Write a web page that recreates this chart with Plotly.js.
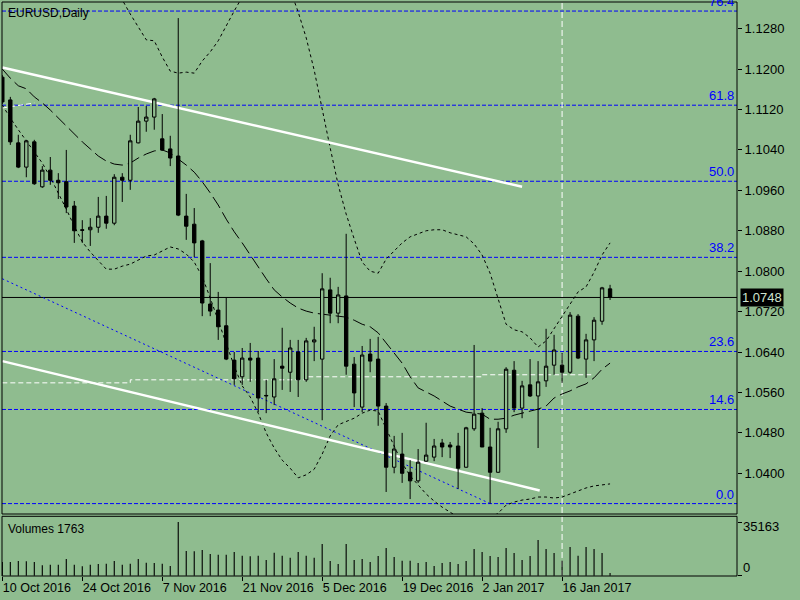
<!DOCTYPE html>
<html><head><meta charset="utf-8">
<script src="https://cdn.plot.ly/plotly-3.0.1.min.js"></script>
<style>html,body{margin:0;padding:0;background:#8FBC8F;}#chart{width:800px;height:600px;}</style>
</head><body><div id="chart"></div>
<script>
// ---- data (EURUSD, Daily) ----
const dateTickIdx  = [0,10,20,30,40,50,60,70];
const dateTickText = ['10 Oct 2016','24 Oct 2016','7 Nov 2016','21 Nov 2016','5 Dec 2016','19 Dec 2016','2 Jan 2017','16 Jan 2017'];

const openP = [1.1184,1.1139,1.1054,1.1006,1.1056,1.0967,1.1000,1.0980,1.0977,1.0929,
1.0882,1.0882,1.0887,1.0909,1.0895,1.0986,1.0980,1.1054,1.1097,1.1105,
1.1062,1.1042,1.1028,1.0909,1.0893,1.0860,1.0735,1.0723,1.0692,1.0624,
1.0591,1.0628,1.0628,1.0553,1.0551,1.0612,1.0600,1.0640,1.0585,1.0660,
1.0626,1.0763,1.0717,1.0751,1.0616,1.0531,1.0636,1.0626,1.0533,1.0412,
1.0438,1.0402,1.0385,1.0424,1.0432,1.0460,1.0456,1.0454,1.0412,1.0488,
1.0519,1.0452,1.0402,1.0488,1.0604,1.0529,1.0575,1.0553,1.0583,1.0614,
1.0614,1.0600,1.0711,1.0626,1.0664,1.0701,1.0765];
const highP = [1.1188,1.1145,1.1070,1.1060,1.1060,1.1008,1.1026,1.0994,1.1040,1.0939,
1.0901,1.0905,1.0947,1.0949,1.0992,1.0994,1.1070,1.1125,1.1127,1.1143,
1.1111,1.1068,1.1301,1.0953,1.0925,1.0862,1.0816,1.0759,1.0747,1.0640,
1.0648,1.0658,1.0642,1.0585,1.0626,1.0688,1.0664,1.0664,1.0668,1.0690,
1.0796,1.0787,1.0769,1.0874,1.0630,1.0652,1.0666,1.0670,1.0539,1.0474,
1.0480,1.0426,1.0448,1.0500,1.0468,1.0468,1.0462,1.0480,1.0492,1.0654,
1.0529,1.0490,1.0502,1.0610,1.0622,1.0583,1.0626,1.0622,1.0686,1.0674,
1.0638,1.0719,1.0715,1.0676,1.0709,1.0769,1.0773];
const lowP = [1.1131,1.1050,1.1004,1.0986,1.0971,1.0965,1.0971,1.0943,1.0915,1.0856,
1.0856,1.0850,1.0876,1.0884,1.0891,1.0937,1.0961,1.1053,1.1076,1.1080,
1.1038,1.1008,1.0909,1.0862,1.0828,1.0711,1.0711,1.0664,1.0624,1.0575,
1.0575,1.0581,1.0521,1.0519,1.0535,1.0565,1.0561,1.0551,1.0581,1.0622,
1.0505,1.0697,1.0697,1.0595,1.0531,1.0521,1.0600,1.0494,1.0363,1.0400,
1.0381,1.0349,1.0381,1.0423,1.0424,1.0432,1.0430,1.0369,1.0411,1.0484,
1.0452,1.0340,1.0401,1.0480,1.0521,1.0509,1.0551,1.0450,1.0571,1.0595,
1.0579,1.0597,1.0626,1.0589,1.0622,1.0694,1.0743];
const closeP = [1.1135,1.1056,1.1006,1.1058,1.0973,1.1000,1.0980,1.0975,1.0927,1.0880,
1.0881,1.0887,1.0909,1.0895,1.0986,1.0980,1.1058,1.1097,1.1105,1.1141,
1.1040,1.1024,1.0911,1.0889,1.0856,1.0737,1.0721,1.0690,1.0626,1.0587,
1.0628,1.0624,1.0549,1.0554,1.0587,1.0608,1.0648,1.0585,1.0662,1.0664,
1.0765,1.0717,1.0753,1.0612,1.0559,1.0634,1.0622,1.0533,1.0412,1.0448,
1.0400,1.0385,1.0422,1.0436,1.0454,1.0452,1.0452,1.0410,1.0490,1.0517,
1.0452,1.0402,1.0488,1.0606,1.0529,1.0573,1.0553,1.0581,1.0612,1.0644,
1.0600,1.0713,1.0628,1.0664,1.0703,1.0767,1.0748];
const volumes = [9000,8950,9610,9390,8950,6770,7210,7210,10920,7210,
6120,7210,7640,7860,9610,7210,7860,10920,8520,8300,
7860,6330,35163,16160,15940,16820,14200,13760,13760,15510,
13100,12670,13100,10260,15070,13100,11790,15510,13100,11790,
20750,9610,7640,20750,10260,10920,8950,12890,18130,12230,
9830,9830,8300,8950,6330,8300,8950,7640,9610,17470,
15510,12890,12230,18130,14850,10260,12890,23370,17470,14850,
9830,18780,13100,18780,17470,14850,1763];

// Bollinger bands (dotted) and their middle line (long dash)
const bbUpper = [null,null,null,null,null,null,null,null,null,null,
null,null,null,null,1.1347,1.1337,1.1309,1.1283,1.1258,1.1256,
1.1224,1.1196,1.1192,1.1194,1.1192,1.1216,1.1234,1.1256,1.1287,1.1315,
1.1343,1.1366,1.1380,1.1386,1.1392,1.1386,1.1357,1.1313,1.1262,1.1198,
1.1119,1.1044,1.0971,1.0913,1.0864,1.0818,1.0800,1.0796,1.0824,1.0840,
1.0856,1.0868,1.0874,1.0880,1.0882,1.0882,1.0876,1.0872,1.0868,1.0854,
1.0832,1.0796,1.0743,1.0695,1.0684,1.0680,1.0668,1.0650,1.0662,1.0686,
1.0709,1.0735,1.0759,1.0769,1.0798,1.0832,1.0856];
const bbMiddle = [1.1200,1.1182,1.1167,1.1161,1.1145,1.1133,1.1119,1.1103,1.1089,1.1072,
1.1056,1.1042,1.1028,1.1018,1.1012,1.1010,1.1014,1.1024,1.1032,1.1038,
1.1040,1.1034,1.1022,1.1010,1.0996,1.0977,1.0955,1.0931,1.0903,1.0878,
1.0856,1.0832,1.0808,1.0785,1.0763,1.0749,1.0737,1.0727,1.0721,1.0717,
1.0715,1.0713,1.0711,1.0709,1.0703,1.0695,1.0690,1.0678,1.0658,1.0638,
1.0618,1.0591,1.0569,1.0561,1.0553,1.0543,1.0533,1.0527,1.0521,1.0519,
1.0517,1.0507,1.0507,1.0509,1.0515,1.0519,1.0523,1.0527,1.0533,1.0549,
1.0557,1.0563,1.0571,1.0577,1.0589,1.0606,1.0618];
const bbLower = [1.1129,1.1103,1.1080,1.1058,1.1036,1.1014,1.0986,1.0955,1.0923,1.0889,
1.0858,1.0838,1.0820,1.0804,1.0804,1.0810,1.0814,1.0822,1.0830,1.0832,
1.0840,1.0848,1.0844,1.0834,1.0818,1.0789,1.0747,1.0703,1.0658,1.0612,
1.0573,1.0551,1.0519,1.0480,1.0450,1.0426,1.0410,1.0391,1.0397,1.0408,
1.0438,1.0474,1.0496,1.0502,1.0509,1.0519,1.0525,1.0523,1.0490,1.0454,
1.0420,1.0395,1.0377,1.0359,1.0345,1.0333,1.0323,1.0313,1.0308,1.0304,
1.0306,1.0311,1.0321,1.0337,1.0343,1.0347,1.0349,1.0353,1.0353,1.0351,
1.0353,1.0359,1.0365,1.0371,1.0375,1.0377,1.0379];

// white stepped dashed line and short white dashed piece
const whiteStepIdx = [0,16,38,60,74];
const whiteStep    = [1.0579,1.0585,1.0591,1.0595,1.0595];
const whiteShortIdx = [0,4];
const whiteShort    = [1.1123,1.1133];

// trend lines (white, solid)
const upperTrendIdx = [0,65],   upperTrend = [1.1203,1.0967];
const lowerTrendIdx = [0,67.2], lowerTrend = [1.0622,1.0366];

// Fibonacci retracement
const fibLow = 1.0340, fibHigh = 1.1616;
const fibLevels = [0,14.6,23.6,38.2,50.0,61.8,76.4];
const fibLabels = ['0.0','14.6','23.6','38.2','50.0','61.8','76.4'];
const fibDiagIdx = [0,61], fibDiag = [1.0785,1.0340];

const priceTicks = [1.0400,1.0480,1.0560,1.0640,1.0720,1.0800,1.0880,1.0960,1.1040,1.1120,1.1200,1.1280];
const lastPrice = 1.0748;
const volTicks = [0,35163], volTickText = ['0','35163'];
const lastVolume = 1763;
const markerIdx = 70; // vertical line at 16 Jan 2017

// ---- drawing ----
const BG = '#8FBC8F';
const FONT = 'Liberation Sans, Arial, sans-serif';
const idx = openP.map((_, i) => i);
const yRange = [1.03194, 1.13328];
const fibPrice = fibLevels.map(l => fibLow + l / 100 * (fibHigh - fibLow));

const traces = [
  {type:'scatter', mode:'lines', x:idx, y:bbUpper, xaxis:'x', yaxis:'y',
   line:{color:'#000', width:1, dash:'3px,3px'}, hoverinfo:'skip'},
  {type:'scatter', mode:'lines', x:idx, y:bbLower, xaxis:'x', yaxis:'y',
   line:{color:'#000', width:1, dash:'3px,3px'}, hoverinfo:'skip'},
  {type:'scatter', mode:'lines', x:idx, y:bbMiddle, xaxis:'x', yaxis:'y',
   line:{color:'#000', width:1, dash:'13px,5px'}, hoverinfo:'skip'},
  {type:'scatter', mode:'lines', x:whiteStepIdx, y:whiteStep, xaxis:'x', yaxis:'y',
   line:{color:'#fff', width:1, dash:'5px,3px', shape:'hv'}, hoverinfo:'skip'},
  {type:'scatter', mode:'lines', x:whiteShortIdx, y:whiteShort, xaxis:'x', yaxis:'y',
   line:{color:'#fff', width:1, dash:'5px,3px'}, hoverinfo:'skip'},
  {type:'scatter', mode:'lines', x:fibDiagIdx, y:fibDiag, xaxis:'x', yaxis:'y',
   line:{color:'#0000ff', width:1, dash:'2px,3px'}, hoverinfo:'skip'},
  {type:'scatter', mode:'lines', x:upperTrendIdx, y:upperTrend, xaxis:'x', yaxis:'y',
   line:{color:'#fff', width:2.5}, hoverinfo:'skip'},
  {type:'scatter', mode:'lines', x:lowerTrendIdx, y:lowerTrend, xaxis:'x', yaxis:'y',
   line:{color:'#fff', width:2.5}, hoverinfo:'skip'},
  {type:'candlestick', x:idx, open:openP, high:highP, low:lowP, close:closeP,
   xaxis:'x', yaxis:'y3', whiskerwidth:0,
   increasing:{line:{color:'#000', width:1}, fillcolor:BG},
   decreasing:{line:{color:'#000', width:1}, fillcolor:'#000'}, hoverinfo:'skip'},
  {type:'bar', x:idx, y:volumes, xaxis:'x', yaxis:'y2', width:0.14,
   marker:{color:'#000', line:{width:0}}, hoverinfo:'skip'}
];

const shapes = [];
fibPrice.forEach(p => shapes.push({type:'line', xref:'paper', x0:0, x1:1, yref:'y', y0:p, y1:p,
  line:{color:'#0000ff', width:1, dash:'4px,2px'}, layer:'below'}));
shapes.push({type:'line', xref:'paper', x0:0, x1:1, yref:'y', y0:lastPrice, y1:lastPrice,
  line:{color:'#000', width:1}, layer:'below'});
shapes.push({type:'line', xref:'x', x0:markerIdx, x1:markerIdx, yref:'paper', y0:0, y1:1,
  line:{color:'#fff', width:1, dash:'6px,3px'}, layer:'below'});
shapes.push({type:'rect', xref:'paper', yref:'paper', x0:0, x1:1, y0:0.108, y1:1,
  line:{color:'#000', width:1}, fillcolor:'rgba(0,0,0,0)', layer:'above'});
shapes.push({type:'rect', xref:'paper', yref:'paper', x0:0, x1:1, y0:0, y1:0.104,
  line:{color:'#000', width:1}, fillcolor:'rgba(0,0,0,0)', layer:'above'});

const annotations = [];
fibPrice.forEach((p, k) => annotations.push({xref:'paper', x:1, xanchor:'right', xshift:-1,
  yref:'y', y:p, yanchor:'bottom', yshift:0, text:fibLabels[k], showarrow:false,
  font:{family:FONT, size:13, color:'#0000ff'}}));
annotations.push({xref:'paper', x:1, xanchor:'left', xshift:3, yref:'y', y:lastPrice, yanchor:'middle',
  text:lastPrice.toFixed(4), showarrow:false, bgcolor:'#000', borderpad:1,
  font:{family:FONT, size:13, color:'#cfe3cf'}});
annotations.push({xref:'paper', x:0, xanchor:'left', xshift:4, yref:'paper', y:1, yanchor:'top', yshift:-2,
  text:'EURUSD,Daily', showarrow:false, font:{family:FONT, size:12, color:'#000'}});
annotations.push({xref:'paper', x:0, xanchor:'left', xshift:4, yref:'paper', y:0.104, yanchor:'top', yshift:-4,
  text:'Volumes ' + lastVolume, showarrow:false, font:{family:FONT, size:12, color:'#000'}});
annotations.push({xref:'paper', x:1, xanchor:'left', xshift:4, yref:'y2', y:volTicks[1], yanchor:'top', yshift:5,
  text:volTickText[1], showarrow:false, font:{family:FONT, size:13, color:'#000'}});
annotations.push({xref:'paper', x:1, xanchor:'left', xshift:4, yref:'y2', y:volTicks[0], yanchor:'bottom', yshift:-1,
  text:volTickText[0], showarrow:false, font:{family:FONT, size:13, color:'#000'}});

const layout = {
  width:800, height:600, paper_bgcolor:BG, plot_bgcolor:BG,
  margin:{l:2, r:63, t:2, b:24, pad:0}, showlegend:false, hovermode:false,
  font:{family:FONT, size:13, color:'#000'},
  boxgap:0.4,
  xaxis:{range:[-0.04, 91.875], anchor:'y2', showgrid:false, zeroline:false, showline:false,
    tickvals:dateTickIdx, ticktext:dateTickText, ticks:'outside', ticklen:4, tickcolor:'#000',
    ticklabelposition:'outside right', tickfont:{family:FONT, size:12.5, color:'#000'},
    rangeslider:{visible:false}, fixedrange:true},
  yaxis:{domain:[0.108, 1], range:yRange, side:'right', anchor:'x', showgrid:false, zeroline:false,
    showline:false, tickvals:priceTicks, ticktext:priceTicks.map(v => v.toFixed(4)),
    ticks:'outside', ticklen:4, tickcolor:'#000', tickfont:{family:FONT, size:13, color:'#000'}},
  yaxis3:{overlaying:'y', range:yRange, visible:false, anchor:'x'},
  yaxis2:{domain:[0, 0.104], range:[-196, 38895], side:'right', anchor:'x', showgrid:false,
    zeroline:false, showline:false, tickvals:volTicks, showticklabels:false,
    ticks:'outside', ticklen:4, tickcolor:'#000'},
  shapes:shapes, annotations:annotations
};

Plotly.newPlot('chart', traces, layout, {staticPlot:true, displayModeBar:false});
</script>
</body></html>
